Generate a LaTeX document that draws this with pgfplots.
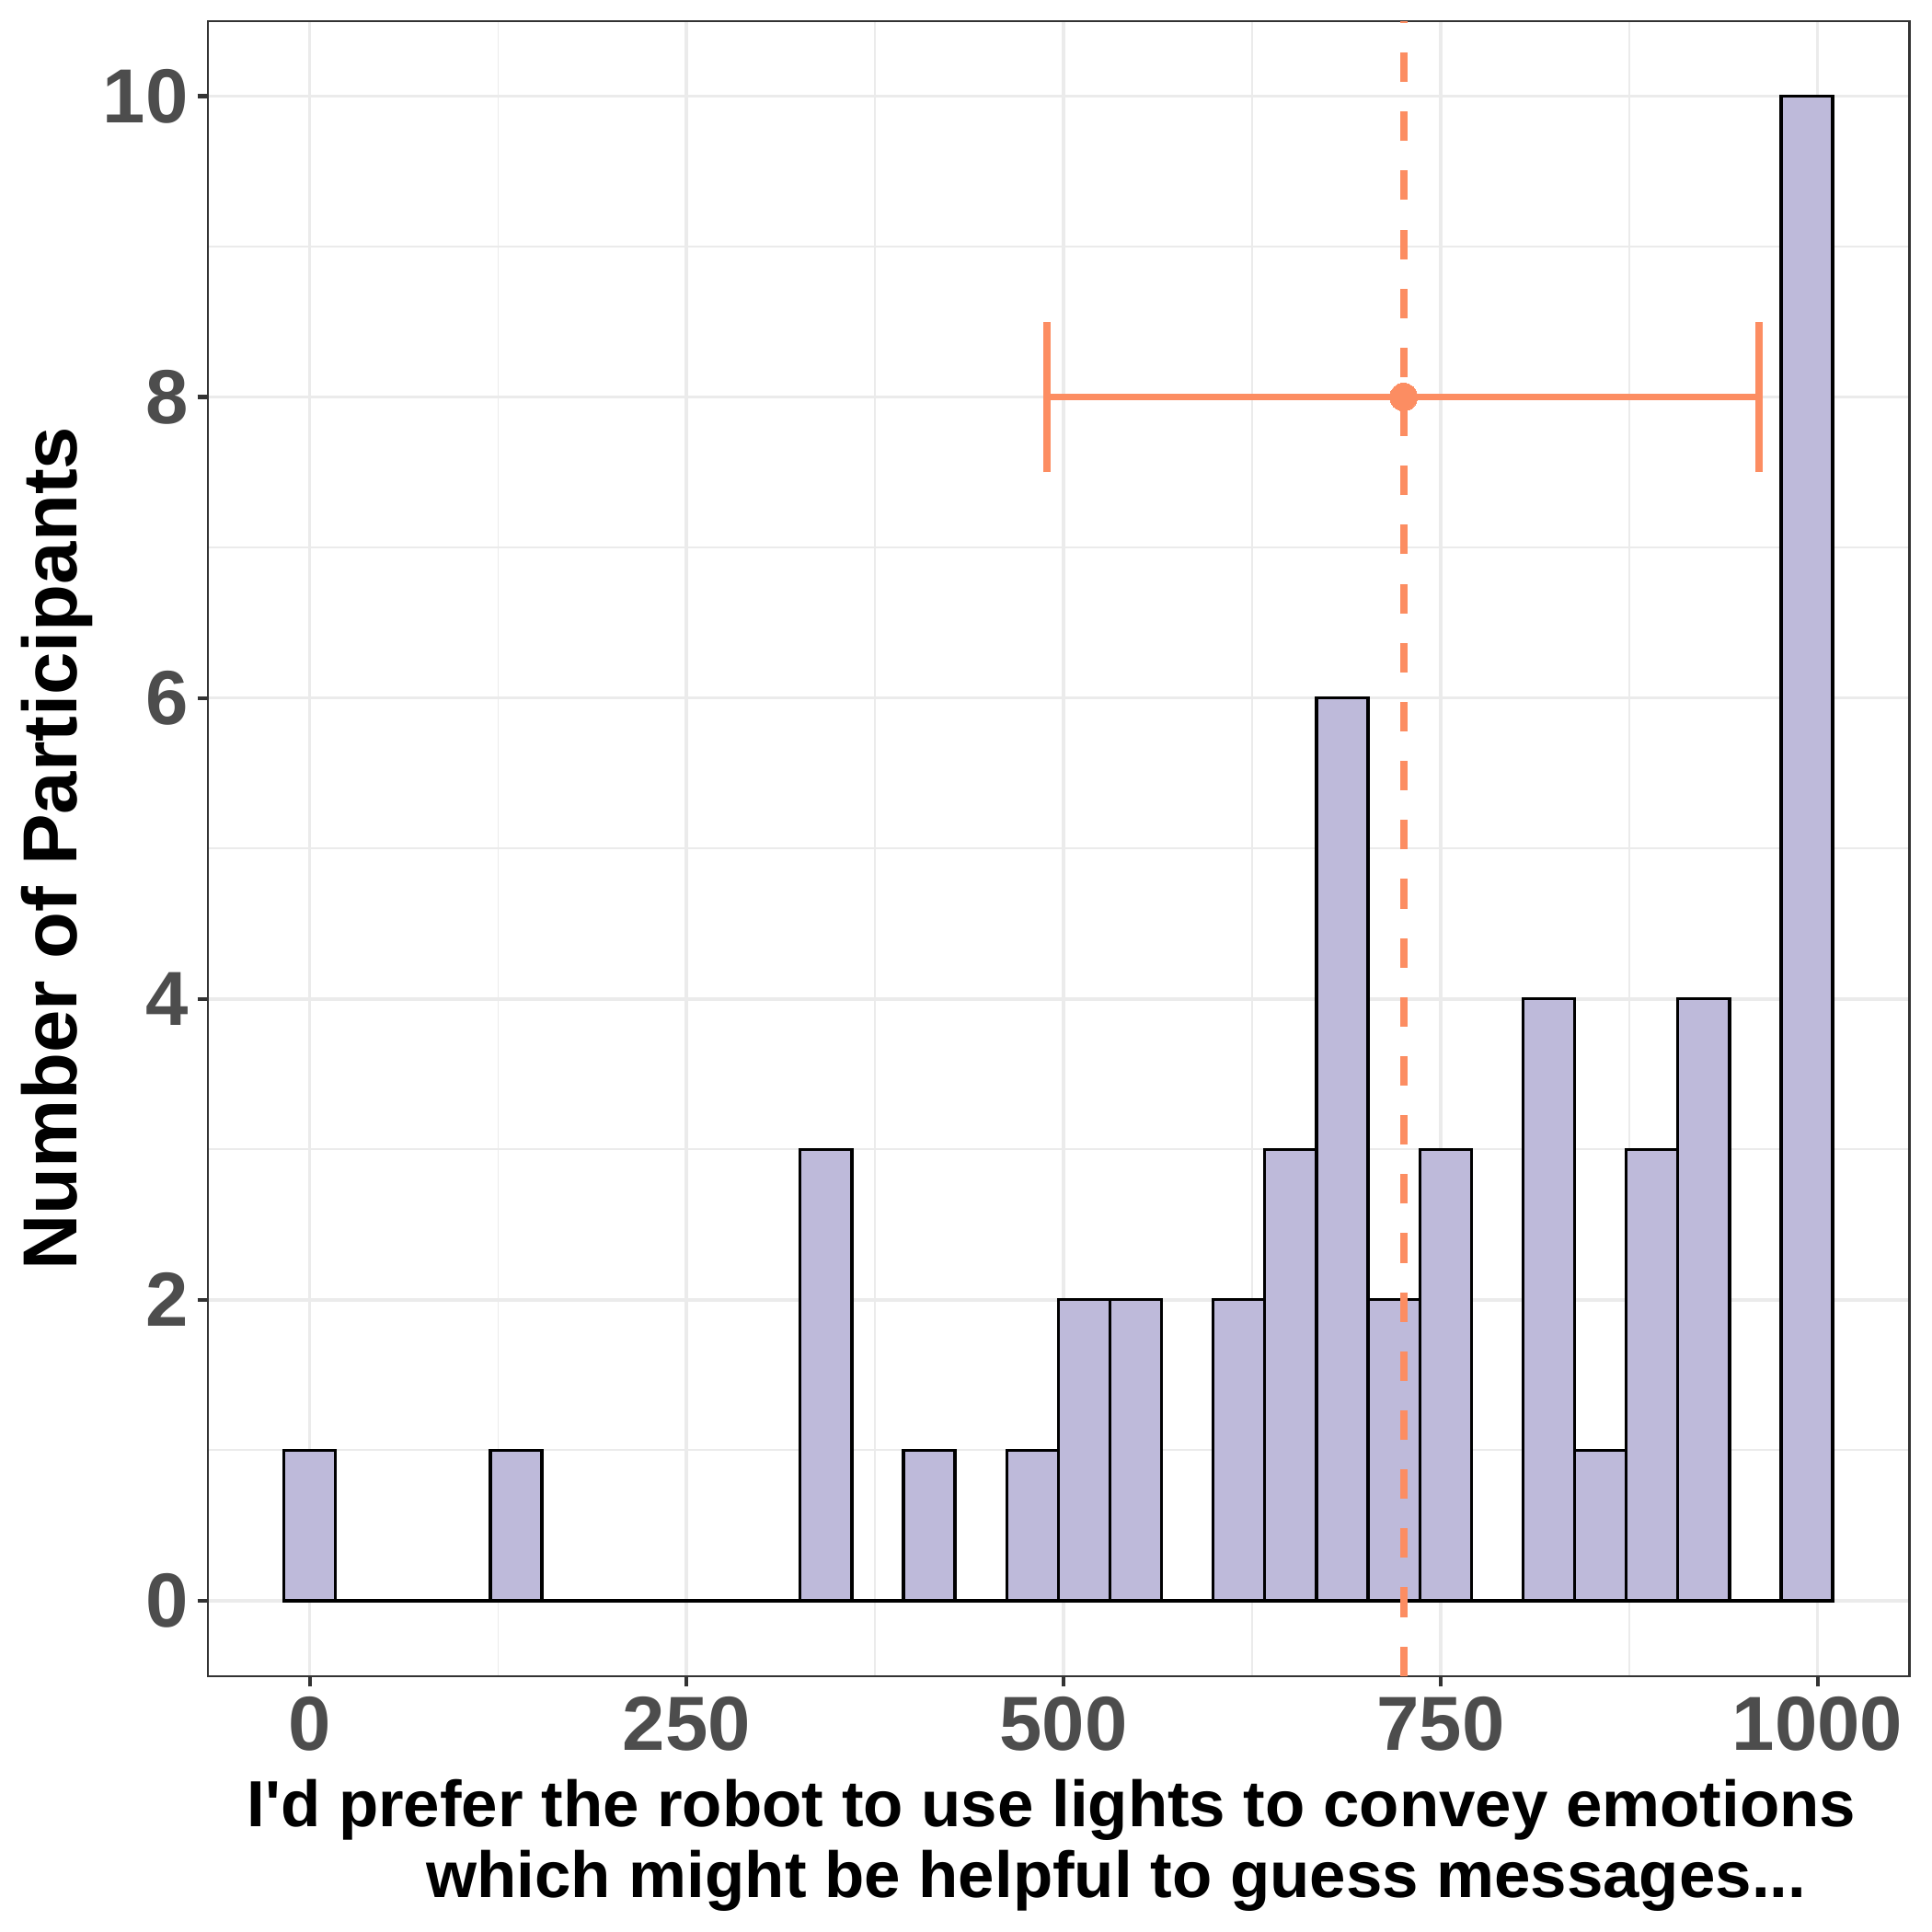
\documentclass[border=0pt]{standalone}
\usepackage{pgfplots}
\pgfplotsset{compat=1.18}
\usepackage{pgfplotstable}
\usepackage{fontspec}
\setmainfont{Liberation Sans}[Ligatures={TeXOff,CommonOff}]
\definecolor{barc}{HTML}{BEBADA}
\definecolor{orangec}{HTML}{FC8D62}
\definecolor{tickc}{HTML}{4D4D4D}
\definecolor{borderc}{HTML}{333333}
\definecolor{gridc}{HTML}{EBEBEB}
\pgfplotstableread{
x count
0 1
34.24 0
68.48 0
102.72 0
136.96 1
171.2 0
205.44 0
239.68 0
273.92 0
308.16 0
342.4 3
376.64 0
410.88 1
445.12 0
479.36 1
513.6 2
547.84 2
582.08 0
616.32 2
650.56 3
684.8 6
719.04 2
753.28 3
787.52 0
821.76 4
856.0 1
890.24 3
924.48 4
958.72 0
992.96 10
}\hist
\begin{document}
\begin{tikzpicture}
\path[use as bounding box] (-54.24pt,-66.8pt) rectangle (449.76pt,437.2pt);
\begin{axis}[
  scale only axis, width=443.9pt, height=431.76pt,
  xmin=-67.5, xmax=1061, ymin=-0.5, ymax=10.5,
  axis line style={draw=borderc, line width=0.55pt},
  xtick={0,250,500,750,1000}, xticklabels={0,250,500,750,1000},
  ytick={0,2,4,6,8,10}, yticklabels={0,2,4,6,8,10},
  minor xtick={125,375,625,875}, minor ytick={1,3,5,7,9},
  grid=both,
  major grid style={draw=gridc, line width=0.9pt},
  minor grid style={draw=gridc, line width=0.45pt},
  tick align=outside, major tick length=2.75pt, minor tick length=0pt,
  major tick style={draw=borderc, line width=1pt},
  xtick pos=bottom, ytick pos=left,
  /pgf/number format/assume math mode=true,
  ticklabel style={font=\fontsize{20}{24}\selectfont\bfseries, text=tickc, inner sep=0pt},
  xticklabel style={anchor=north, yshift=-2.6pt},
  yticklabel style={anchor=east, xshift=-2.2pt},
  xlabel={I'd prefer the robot to use lights to convey emotions\\\hspace*{33.8pt}which might be helpful to guess messages...},
  xlabel style={at={(axis description cs:0.5,0)}, anchor=north, inner sep=0pt, align=center,
    font=\fontsize{17}{18.4}\selectfont\bfseries, text=black, xshift=-1.9pt, yshift=-26.8pt},
  ylabel={Number of Participants},
  ylabel style={at={(axis description cs:-0.0768,0.5)}, anchor=base, rotate=0, inner sep=0pt,
    font=\fontsize{20}{24}\selectfont\bfseries, text=black},
]
\addplot[ybar, bar width=34.24, bar shift=0pt, fill=barc, draw=black, line width=0.8pt] table[x=x, y=count] {\hist};
\addplot[orangec, line width=1.9pt, dash pattern=on 7.7pt off 7.7pt] coordinates {(725.5,-0.5) (725.5,10.5)};
\addplot[orangec, line width=1.9pt] coordinates {(488.8,8) (961,8)};
\addplot[orangec, line width=1.9pt] coordinates {(488.8,7.5) (488.8,8.5)};
\addplot[orangec, line width=1.9pt] coordinates {(961,7.5) (961,8.5)};
\addplot[only marks, mark=*, mark size=3.6pt, mark options={fill=orangec, draw=orangec, line width=0pt}] coordinates {(725.5,8)};
\end{axis}
\end{tikzpicture}
\end{document}
